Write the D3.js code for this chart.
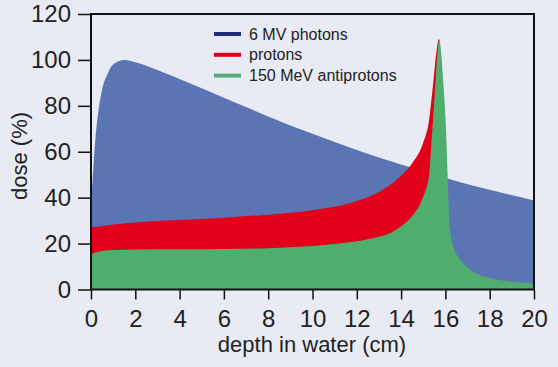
<!DOCTYPE html>
<html>
<head>
<meta charset="utf-8">
<script src="https://cdn.jsdelivr.net/npm/d3@7"></script>
<style>
  body { margin: 0; background: #e9ebf4; }
  svg { display: block; font-family: "Liberation Sans", Arial, sans-serif; }
</style>
</head>
<body>
<div id="viz"></div>
<script>
// chart values
var photonDepth = [0, 0.1, 0.2, 0.3, 0.5, 0.75, 1, 1.5, 2, 3, 4, 6, 8, 10, 12, 14, 16, 18, 20];
var photonDose  = [38, 52, 66, 75, 87, 94, 98, 100, 99, 95.6, 91.7, 83.5, 75.4, 67.8, 60.8, 54.4, 48.6, 43.4, 38.8];

var protonDepth = [0, 1, 2, 4, 6, 8, 10, 12, 13, 13.5, 14, 14.5, 15, 15.25, 15.45, 15.6, 15.7, 15.8, 15.9, 16.0, 16.1, 20];
var protonDose  = [27, 28.3, 29.2, 30.3, 31.3, 32.6, 34.5, 38.5, 42.5, 45.5, 49.5, 55, 64, 73, 90, 104, 109, 101, 60, 10, 0, 0];

var antiDepth = [0, 0.5, 1, 2, 4, 6, 8, 10, 11, 12, 13, 13.5, 14, 14.5, 15, 15.25, 15.4, 15.55, 15.65, 15.72, 15.8, 15.9, 16.03, 16.1, 16.2, 16.4, 16.6, 17, 17.4, 18, 18.5, 19, 20];
var antiDose  = [15.5, 16.8, 17.2, 17.4, 17.5, 17.6, 18, 19, 19.8, 21, 23, 24.5, 27.5, 32, 40.5, 49, 68, 90, 104, 109, 104, 91, 69, 50, 27, 17.5, 14, 9.5, 7, 5, 4, 3.4, 2.5];

var xTicks = [0, 2, 4, 6, 8, 10, 12, 14, 16, 18, 20];
var yTicks = [0, 20, 40, 60, 80, 100, 120];
var seriesNames = ["6 MV photons", "protons", "150 MeV antiprotons"];

// layout
var width = 558, height = 367;
var margin = ({top: 14, right: 24, bottom: 77.5, left: 91});

var svg = d3.select("#viz").append("svg")
  .attr("width", width)
  .attr("height", height);

var x = d3.scaleLinear().domain([0, 20]).range([margin.left, width - margin.right]);
var y = d3.scaleLinear().domain([0, 120]).range([height - margin.bottom, margin.top]);

function toPoints(depths, doses)
{
  return depths.map(function(d, i) { return {d: d, v: doses[i]}; });
}

var area = d3.area()
  .x(function(p) { return x(p.d); })
  .y0(y(0))
  .y1(function(p) { return y(p.v); })
  .curve(d3.curveMonotoneX);

svg.append("clipPath").attr("id", "plotClip")
  .append("rect")
  .attr("x", x(0)).attr("y", y(120))
  .attr("width", x(20) - x(0)).attr("height", y(0) - y(120));

var layers = [
  {pts: toPoints(photonDepth, photonDose), fill: "#5a74b4"},
  {pts: toPoints(protonDepth, protonDose), fill: "#e2001b"},
  {pts: toPoints(antiDepth, antiDose), fill: "#4fae6e"}
];

svg.append("g").attr("clip-path", "url(#plotClip)")
  .selectAll("path")
  .data(layers)
  .enter()
  .append("path")
  .attr("d", function(l) { return area(l.pts); })
  .attr("fill", function(l) { return l.fill; });

// frame
svg.append("rect")
  .attr("x", x(0)).attr("y", y(120))
  .attr("width", x(20) - x(0)).attr("height", y(0) - y(120))
  .attr("fill", "none")
  .attr("stroke", "#111")
  .attr("stroke-width", 2);

// axes
var yAxis = svg.append("g")
  .attr("transform", "translate(" + x(0) + ",0)")
  .call(d3.axisLeft(y).tickValues(yTicks).tickSize(13).tickPadding(7));

var xAxis = svg.append("g")
  .attr("transform", "translate(0," + y(0) + ")")
  .call(d3.axisBottom(x).tickValues(xTicks).tickSize(10).tickPadding(10));

[xAxis, yAxis].forEach(function(g)
{
  g.select(".domain").remove();
  g.selectAll("line").attr("stroke", "#111").attr("stroke-width", 1.5);
  g.selectAll("text")
   .attr("fill", "#222")
   .style("font-size", "24px")
   .style("font-family", "'Liberation Sans', Arial, sans-serif");
});

// axis titles
svg.append("text")
  .attr("x", 312)
  .attr("y", 352)
  .attr("text-anchor", "middle")
  .attr("fill", "#222")
  .style("font-size", "22px")
  .text("depth in water (cm)");

svg.append("text")
  .attr("transform", "translate(27,156) rotate(-90)")
  .attr("text-anchor", "middle")
  .attr("fill", "#222")
  .style("font-size", "22px")
  .text("dose (%)");

// legend
var legendColors = ["#1c2e7c", "#e2001b", "#5aa978"];
var legend = svg.append("g");
seriesNames.forEach(function(name, i)
{
  var ly = 34 + i * 20.8;
  legend.append("line")
    .attr("x1", 214).attr("x2", 241)
    .attr("y1", ly).attr("y2", ly)
    .attr("stroke", legendColors[i])
    .attr("stroke-width", 4);
  legend.append("text")
    .attr("x", 249)
    .attr("y", ly + 5.5)
    .attr("fill", "#222")
    .style("font-size", "16px")
    .text(name);
});
</script>
</body>
</html>
